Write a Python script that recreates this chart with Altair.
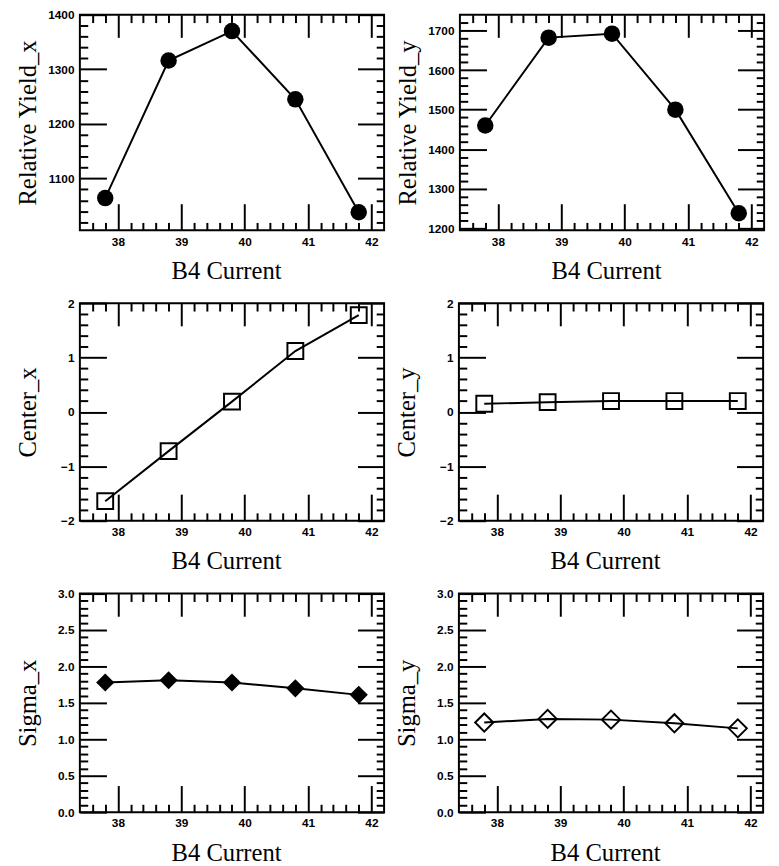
import altair as alt
import pandas as pd

# ---------------- data ----------------
b4_current = [37.8, 38.8, 39.8, 40.8, 41.8]
yield_x = [1064, 1316, 1370, 1245, 1038]
yield_y = [1460, 1682, 1692, 1500, 1238]
center_x = [-1.64, -0.72, 0.19, 1.12, 1.78]
center_y = [0.15, 0.18, 0.20, 0.20, 0.20]
sigma_x = [1.78, 1.81, 1.78, 1.70, 1.61]
sigma_y = [1.23, 1.28, 1.27, 1.22, 1.15]

x_domain = [37.4, 42.2]
x_major = [38, 39, 40, 41, 42]

yield_x_domain = [1005, 1400]
yield_x_major = [1100, 1200, 1300, 1400]
yield_y_domain = [1195, 1740]
yield_y_major = [1200, 1300, 1400, 1500, 1600, 1700]
center_domain = [-2, 2]
center_major = [-2, -1, 0, 1, 2]
sigma_domain = [0, 3]
sigma_major = [0.0, 0.5, 1.0, 1.5, 2.0, 2.5, 3.0]


def minors(lo, hi, step, majors):
    out = []
    n = int(round((hi - lo) / step))
    for i in range(n + 1):
        v = round(lo + i * step, 4)
        if all(abs(v - m) > 1e-6 for m in majors):
            out.append(v)
    return out


x_minor = minors(37.6, 42.0, 0.2, x_major)

W = 309
MAJ_B, MAJ_T, MAJ_L, MAJ_R, MIN_LEN = 27, 23, 27, 27, 8


def panel(values, ytitle, ydomain, ymajor, yminor, yfmt, shape, filled, size, H):
    df = pd.DataFrame({"current": b4_current, "value": values})
    xs = alt.Scale(domain=x_domain, nice=False, zero=False)
    ys = alt.Scale(domain=ydomain, nice=False, zero=False)
    base = alt.Chart(df)

    line = base.mark_line(color="black", strokeWidth=2).encode(
        x=alt.X(
            "current:Q",
            scale=xs,
            axis=alt.Axis(
                orient="bottom", values=x_major, format="d", ticks=False,
                domain=False, grid=False, labelFlush=False, labelPadding=6,
                title="B4 Current", titleX=W / 2 - 6, titleY=49,
                titleBaseline="alphabetic", titleAlign="center",
            ),
        ),
        y=alt.Y(
            "value:Q",
            scale=ys,
            axis=alt.Axis(
                orient="left", values=ymajor, format=yfmt, ticks=False,
                domain=False, grid=False, labelPadding=6, labelFlush=False,
                title=ytitle, titleX=-45, titleY=H / 2,
                titleBaseline="alphabetic", titleAlign="center",
            ),
        ),
    )

    pts = base.mark_point(
        shape=shape, filled=filled, size=size, color="black",
        strokeWidth=2, opacity=1,
    ).encode(
        x=alt.X("current:Q", scale=xs, axis=None),
        y=alt.Y("value:Q", scale=ys, axis=None),
    )

    def tick_layer(xo, xv, xl, yo, yv, yl):
        return base.mark_point(opacity=0).encode(
            x=alt.X(
                "current:Q", scale=xs,
                axis=alt.Axis(orient=xo, values=xv, labels=False, domain=False,
                              grid=False, tickSize=xl, offset=-xl, tickWidth=2,
                              tickColor="black", title=None, minExtent=0),
            ),
            y=alt.Y(
                "value:Q", scale=ys,
                axis=alt.Axis(orient=yo, values=yv, labels=False, domain=False,
                              grid=False, tickSize=yl, offset=-yl, tickWidth=2,
                              tickColor="black", title=None, minExtent=0),
            ),
        )

    t1 = tick_layer("bottom", x_major, MAJ_B, "left", ymajor, MAJ_L)
    t2 = tick_layer("bottom", x_minor, MIN_LEN, "left", yminor, MIN_LEN)
    t3 = tick_layer("top", x_major, MAJ_T, "right", ymajor, MAJ_R)
    t4 = tick_layer("top", x_minor, MIN_LEN, "right", yminor, MIN_LEN)

    return (
        alt.layer(line, pts, t1, t2, t3, t4)
        .resolve_axis(x="independent", y="independent")
        .properties(width=W, height=H)
    )


p1 = panel(yield_x, "Relative Yield_x", yield_x_domain, yield_x_major,
           minors(1020, 1380, 20, yield_x_major), "d", "circle", True, 280, 219)
p2 = panel(yield_y, "Relative Yield_y", yield_y_domain, yield_y_major,
           minors(1200, 1720, 20, yield_y_major), "d", "circle", True, 280, 219)
p3 = panel(center_x, "Center_x", center_domain, center_major,
           minors(-1.8, 1.8, 0.2, center_major), "d", "square", False, 260, 221)
p4 = panel(center_y, "Center_y", center_domain, center_major,
           minors(-1.8, 1.8, 0.2, center_major), "d", "square", False, 260, 221)
p5 = panel(sigma_x, "Sigma_x", sigma_domain, sigma_major,
           minors(0.1, 2.9, 0.1, sigma_major), ".1f", "diamond", True, 340, 222)
p6 = panel(sigma_y, "Sigma_y", sigma_domain, sigma_major,
           minors(0.1, 2.9, 0.1, sigma_major), ".1f", "diamond", False, 340, 222)

chart = (
    alt.vconcat(
        alt.hconcat(p1, p2, spacing=8),
        alt.hconcat(p3, p4, spacing=8),
        alt.hconcat(p5, p6, spacing=8),
        spacing=12,
    )
    .properties(padding={"left": 6, "top": -7, "right": 5, "bottom": 0})
    .configure_view(stroke="black", strokeWidth=2)
    .configure_axis(
        labelFont="Liberation Sans", labelFontWeight="bold", labelFontSize=12,
        labelColor="black", titleFont="Liberation Serif",
        titleFontWeight="normal", titleFontSize=25, titleColor="black",
    )
)

chart.save("out.html", embed_options={"renderer": "svg", "actions": False})
